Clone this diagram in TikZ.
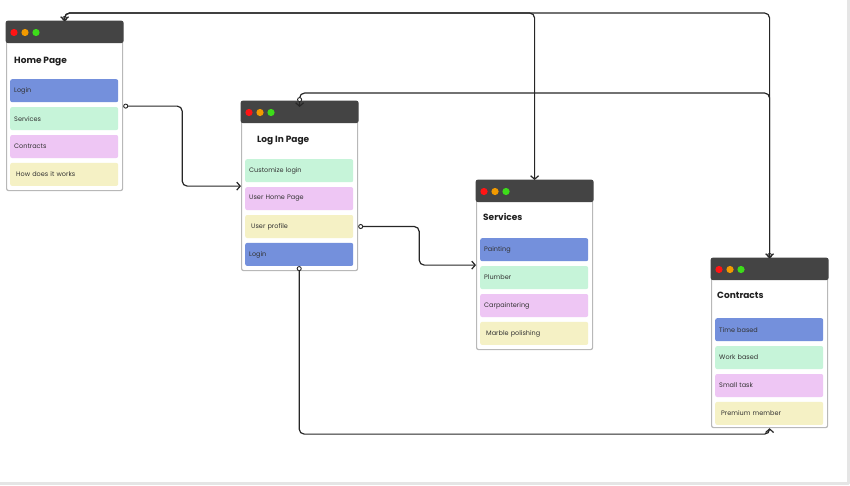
\documentclass[tikz,border=0pt]{standalone}
\usepackage{fontspec}
\setmainfont{Poppins}
\usetikzlibrary{arrows.meta, positioning}
\definecolor{headgray}{HTML}{444444}
\definecolor{dotred}{HTML}{FF1414}
\definecolor{dotorange}{HTML}{F29A00}
\definecolor{dotgreen}{HTML}{3DDC1A}
\definecolor{cblue}{HTML}{7490DC}
\definecolor{cgreen}{HTML}{C6F4D9}
\definecolor{cpink}{HTML}{EEC6F4}
\definecolor{cyellow}{HTML}{F5F1C5}
\definecolor{linkgray}{HTML}{262626}

\begin{document}
\begin{tikzpicture}[x=1pt, y=-1pt, line join=round]
                \tikzset{barb/.tip={Straight Barb[length=3.5pt,width=8pt]}, ring/.tip={Circle[open,fill=white,length=5pt,line width=0.9pt]}};
                \tikzset{window/.style={draw=black!28, line width=1.2pt, fill=white, rounded corners=2pt, minimum width=116pt, minimum height=169pt, anchor=north west, inner sep=0pt}};
                \tikzset{item/.style={rounded corners=2pt, minimum width=108pt, minimum height=23pt, text width=100pt, inner xsep=4pt, align=left, font=\fontsize{6.5}{7}\selectfont, text=black!80}};
                \tikzset{wide/.style={item, text width=96pt, inner xsep=6pt}};
                \tikzset{title/.style={anchor=west, inner sep=0pt, font=\fontsize{9}{10}\selectfont\bfseries, text=black!88}};
                \tikzset{link/.style={draw=linkgray, line width=1.2pt, rounded corners=5pt}};
                \useasboundingbox (0,0) rectangle (850,485);
                \draw[black!10, line width=2.5pt] (0,483.5) -| (848.5,0);
                \node[window] (home) at (6,21) {};
                \node[window] (login) at (241,101) {};
                \node[window] (services) at (476,180) {};
                \node[window] (contracts) at (711,258) {};
                \foreach \w in {home, login, services, contracts} {
                    \fill[headgray, rounded corners=2pt] ([shift={(-0.3,-0.3)}]\w.north west) rectangle ([shift={(0.3,22)}]\w.north east);
                    \foreach \c [count=\i] in {dotred, dotorange, dotgreen}
                        \fill[\c] ([shift={({-3+11*\i},11.5)}]\w.north west) circle (3.6pt);
                }
                \node[title] (hometitle) at ([shift={(8,41)}]home.north west) {Home Page};
                \node[title] (logintitle) at ([shift={(16,40)}]login.north west) {Log In Page};
                \node[title] (servicestitle) at ([shift={(7,37)}]services.north west) {Services};
                \node[title] (contractstitle) at ([shift={(6,37)}]contracts.north west) {Contracts};
                \node[item, fill=cblue, below right=58pt and 4pt of home.north west] (hlogin) {Login};
                \node[item, fill=cgreen, below=4.5pt of hlogin] (hservices) {Services};
                \node[item, fill=cpink, below=4.5pt of hservices] (hcontracts) {Contracts};
                \node[wide, fill=cyellow, below=4.5pt of hcontracts] (hhow) {How does it works};
                \node[item, fill=cgreen, below right=58pt and 4pt of login.north west] (lcustom) {Customize login};
                \node[item, fill=cpink, below=4.5pt of lcustom] (luserhome) {User Home Page};
                \node[wide, fill=cyellow, below=4.5pt of luserhome] (lprofile) {User profile};
                \node[item, fill=cblue, below=4.5pt of lprofile] (llogin) {Login};
                \node[item, fill=cblue, below right=58pt and 4pt of services.north west] (spaint) {Painting};
                \node[item, fill=cgreen, below=4.5pt of spaint] (splumb) {Plumber};
                \node[item, fill=cpink, below=4.5pt of splumb] (scarp) {Carpaintering};
                \node[wide, fill=cyellow, below=4.5pt of scarp] (smarble) {Marble polishing};
                \node[item, fill=cblue, below right=60pt and 4pt of contracts.north west] (ctime) {Time based};
                \node[item, fill=cgreen, below=4.5pt of ctime] (cwork) {Work based};
                \node[item, fill=cpink, below=4.5pt of cwork] (csmall) {Small task};
                \node[wide, fill=cyellow, below=4.5pt of csmall] (cpremium) {Premium member};
                \draw[link, {ring}-{barb}] (home.east) -- ++(59,0) |- (login.west);
                \draw[link, {ring}-{barb}] (login.east |- lprofile.east) -- ++(61,0) |- (services.west);
                \draw[link, {ring}-{barb}] (llogin.south) -- ++(0,168) -| (contracts.south);
                \draw[link, {ring}-{barb}] (home.north) -- ++(0,-8) -| (services.north);
                \draw[link, {ring}-{barb}] (contracts.north) -- ++(0,-245) -| (home.north);
                \draw[link, {barb[sep=-6pt]ring}-{barb}] (login.north) -- ++(0,-8) -| (contracts.north);
            \end{tikzpicture}
\end{document}
